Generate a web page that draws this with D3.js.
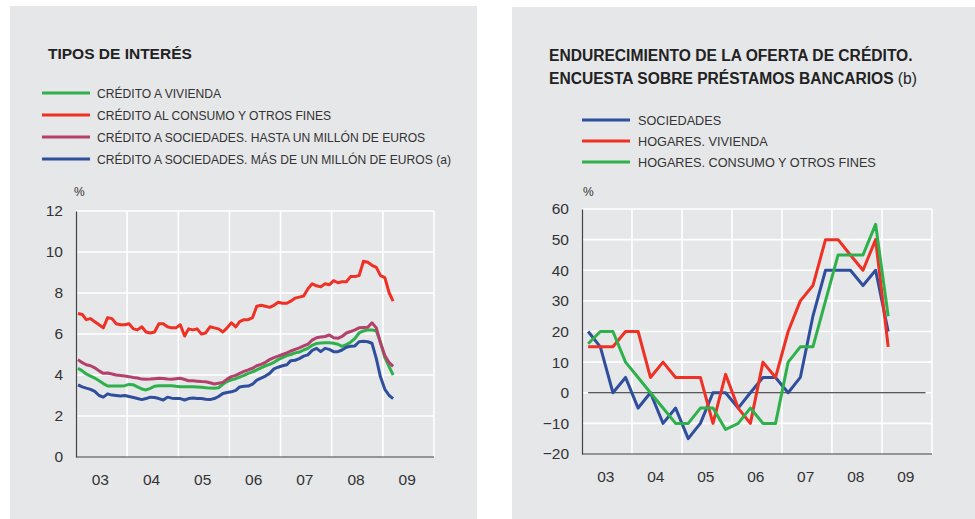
<!DOCTYPE html>
<html><head><meta charset="utf-8">
<script src="https://cdn.jsdelivr.net/npm/d3@7"></script>
<style>
html,body{margin:0;padding:0;background:#fff;}
svg{display:block;font-family:"Liberation Sans",Arial,sans-serif;}
</style></head>
<body>
<svg id="c" width="975" height="519"></svg>
<script>
// ---------- DATA: left panel (monthly, Jan 2003 - Mar 2009) ----------
const leftTitle = "TIPOS DE INTERÉS";
const leftSeriesNames = [
  "CRÉDITO A VIVIENDA",
  "CRÉDITO AL CONSUMO Y OTROS FINES",
  "CRÉDITO A SOCIEDADES. HASTA UN MILLÓN DE EUROS",
  "CRÉDITO A SOCIEDADES. MÁS DE UN MILLÓN DE EUROS (a)"
];
const leftColors = ["#2eb04b", "#ee3124", "#b3416b", "#2f4f9c"];
const vivienda = [4.33,4.2,4.05,3.95,3.85,3.72,3.58,3.46,3.46,3.46,3.46,3.48,
  3.54,3.52,3.42,3.32,3.27,3.35,3.45,3.48,3.48,3.48,3.48,3.45,
  3.43,3.43,3.43,3.43,3.42,3.4,3.38,3.36,3.35,3.38,3.55,3.68,
  3.76,3.82,3.9,3.98,4.08,4.15,4.25,4.35,4.45,4.52,4.62,4.75,
  4.85,4.95,5.0,5.08,5.12,5.22,5.3,5.45,5.54,5.56,5.57,5.57,
  5.55,5.5,5.4,5.48,5.6,5.78,6.05,6.15,6.2,6.2,6.15,5.6,
  4.85,4.4,4.0];
const consumo = [7.0,6.95,6.7,6.75,6.6,6.45,6.3,6.8,6.75,6.5,6.45,6.45,
  6.5,6.25,6.2,6.35,6.1,6.05,6.1,6.5,6.5,6.35,6.3,6.3,
  6.45,5.9,6.25,6.2,6.25,6.0,6.05,6.35,6.3,6.25,6.1,6.3,
  6.55,6.35,6.6,6.7,6.7,6.8,7.35,7.4,7.35,7.3,7.4,7.55,
  7.5,7.5,7.6,7.75,7.8,7.85,8.2,8.45,8.35,8.3,8.45,8.4,
  8.6,8.5,8.55,8.55,8.8,8.8,8.85,9.55,9.5,9.35,9.25,8.85,
  8.75,8.0,7.6];
const sociedadesHasta = [4.75,4.6,4.5,4.45,4.35,4.2,4.08,4.1,4.05,4.0,3.98,3.95,
  3.92,3.88,3.85,3.8,3.79,3.8,3.82,3.84,3.83,3.8,3.79,3.82,
  3.84,3.78,3.72,3.72,3.7,3.68,3.67,3.62,3.56,3.6,3.64,3.8,
  3.92,3.98,4.08,4.18,4.25,4.33,4.45,4.52,4.62,4.75,4.85,4.92,
  5.0,5.08,5.17,5.25,5.32,5.42,5.5,5.7,5.82,5.85,5.88,5.95,
  5.82,5.79,5.88,6.05,6.12,6.2,6.3,6.32,6.33,6.55,6.3,5.55,
  4.95,4.6,4.42];
const sociedadesMas = [3.52,3.42,3.36,3.3,3.2,3.0,2.92,3.08,3.02,3.0,2.98,3.0,
  2.95,2.9,2.85,2.8,2.85,2.92,2.9,2.85,2.78,2.92,2.87,2.85,
  2.85,2.78,2.85,2.88,2.85,2.85,2.82,2.8,2.85,2.95,3.1,3.15,
  3.18,3.25,3.42,3.45,3.46,3.55,3.75,3.85,3.95,4.08,4.3,4.38,
  4.45,4.5,4.7,4.72,4.8,4.92,4.98,5.2,5.3,5.14,5.3,5.25,
  5.14,5.14,5.22,5.35,5.4,5.42,5.62,5.65,5.62,5.55,4.8,3.9,
  3.3,3.0,2.85];
const leftYTicks = [0,2,4,6,8,10,12];

// ---------- DATA: right panel (quarterly, 2003Q1 - 2009Q1) ----------
const rightTitle1 = "ENDURECIMIENTO DE LA OFERTA DE CRÉDITO.";
const rightTitle2 = "ENCUESTA SOBRE PRÉSTAMOS BANCARIOS";
const rightTitleNote = " (b)";
const rightSeriesNames = ["SOCIEDADES", "HOGARES. VIVIENDA", "HOGARES. CONSUMO Y OTROS FINES"];
const rightColors = ["#2f4f9c", "#ee3124", "#2eb04b"];
const sociedades = [20,15,0,5,-5,0,-10,-5,-15,-10,0,0,-5,0,5,5,0,5,25,40,40,40,35,40,20];
const hogaresVivienda = [15,15,15,20,20,5,10,5,5,5,-10,6,-5,-10,10,5,20,30,35,50,50,45,40,50,15];
const hogaresConsumo = [16,20,20,10,5,0,-5,-10,-10,-5,-5,-12,-10,-5,-10,-10,10,15,15,30,45,45,45,55,25];
const rightYTicks = [-20,-10,0,10,20,30,40,50,60];

// ---------- shared ----------
const yearLabels = ["03","04","05","06","07","08","09"];
const years = [2003,2004,2005,2006,2007,2008,2009,2010];

const svg = d3.select("#c");
const bg = "#e6e7e9";
const txt = "#333";

const monthDates = vivienda.map((_, i) => new Date(2003, i, 15));
const quarterDates = sociedades.map((_, i) => new Date(2003, i * 3 + 1, 15));

function panel(o) {
  svg.append("rect").attr("x", o.px).attr("y", o.py).attr("width", o.pw).attr("height", o.ph).attr("fill", bg);
  const x = d3.scaleTime().domain([new Date(2003,0,1), new Date(2010,0,1)]).range([o.x0, o.x1]);
  const y = d3.scaleLinear().domain(o.yDom).range([o.y1, o.y0]);
  const g = svg.append("g");
  g.selectAll(".hg").data(o.yTicks.filter(v => v !== o.yDom[0])).join("line")
    .attr("x1", o.x0).attr("x2", o.x1).attr("y1", d => y(d)).attr("y2", d => y(d))
    .attr("stroke", "#fff").attr("stroke-width", 1.6);
  g.selectAll(".vg").data(years.slice(1)).join("line")
    .attr("x1", d => x(new Date(d,0,1))).attr("x2", d => x(new Date(d,0,1)))
    .attr("y1", o.y0).attr("y2", o.y1).attr("stroke", "#fff").attr("stroke-width", 1.6);
  const ya = d3.axisLeft(y).tickValues(o.yTicks).tickSize(0).tickPadding(o.tickPad);
  const yg = svg.append("g").attr("transform", `translate(${o.x0},0)`).call(ya);
  yg.select(".domain").attr("stroke", "#444").attr("stroke-width", 1.2);
  yg.selectAll("text").attr("font-size", 15.5).attr("fill", txt).attr("font-family", "Liberation Sans, Arial, sans-serif");
  const xa = d3.axisBottom(x).tickValues(years.slice(0,7).map(yr => new Date(yr,5,20)))
    .tickFormat((d,i) => yearLabels[i]).tickSize(0).tickPadding(o.xPad);
  const xg = svg.append("g").attr("transform", `translate(0,${o.y1})`).call(xa);
  xg.select(".domain").attr("stroke", "#444").attr("stroke-width", 1.2).attr("d", `M${o.x0},0H${o.x1}`);
  xg.selectAll("text").attr("font-size", 15.5).attr("fill", txt).attr("font-family", "Liberation Sans, Arial, sans-serif");
  svg.append("text").attr("x", o.pctX).attr("y", o.pctY).attr("font-size", 12).attr("fill", txt).text("%");
  return {x, y};
}

// ---------- left panel ----------
{
  const L = {px:10, py:6, pw:467, ph:513, x0:76, x1:434, y0:211, y1:457, yDom:[0,12], yTicks:leftYTicks,
             tickPad:13, xPad:17, pctX:74, pctY:196};
  const {x, y} = panel(L);
  svg.append("text").attr("x", 48).attr("y", 59).attr("font-size", 15.5).attr("font-weight", "bold")
    .attr("fill", "#222").text(leftTitle);
  const legY = [93, 115, 137, 159];
  leftSeriesNames.forEach((n, i) => {
    svg.append("line").attr("x1", 42).attr("x2", 90).attr("y1", legY[i]).attr("y2", legY[i])
      .attr("stroke", leftColors[i]).attr("stroke-width", 3);
    svg.append("text").attr("x", 97).attr("y", legY[i] + 4.5).attr("font-size", 12.1).attr("fill", txt).text(n);
  });
  const series = [vivienda, consumo, sociedadesHasta, sociedadesMas];
  const line = d3.line().x((d,i) => x(monthDates[i])).y(d => y(d)).curve(d3.curveLinear);
  [1, 0, 2, 3].forEach(k => {
    svg.append("path").datum(series[k]).attr("d", line).attr("fill", "none")
      .attr("stroke", leftColors[k]).attr("stroke-width", 3).attr("stroke-linejoin", "round");
  });
}

// ---------- right panel ----------
{
  const R = {px:512, py:7, pw:463, ph:512, x0:582, x1:932, y0:209, y1:454, yDom:[-20,60], yTicks:rightYTicks,
             tickPad:13, xPad:17, pctX:583, pctY:196};
  const {x, y} = panel(R);
  svg.append("text").attr("x", 549).attr("y", 61).attr("font-size", 15.6).attr("font-weight", "bold")
    .attr("fill", "#222").text(rightTitle1);
  const t2 = svg.append("text").attr("x", 549).attr("y", 84).attr("font-size", 15.6).attr("fill", "#222");
  t2.append("tspan").attr("font-weight", "bold").text(rightTitle2);
  t2.append("tspan").attr("font-weight", "normal").text(rightTitleNote);
  const legY = [120, 141, 162];
  rightSeriesNames.forEach((n, i) => {
    svg.append("line").attr("x1", 582).attr("x2", 630).attr("y1", legY[i]).attr("y2", legY[i])
      .attr("stroke", rightColors[i]).attr("stroke-width", 3);
    svg.append("text").attr("x", 638).attr("y", legY[i] + 4.5).attr("font-size", 12.7).attr("fill", txt).text(n);
  });
  svg.append("line").attr("x1", x(quarterDates[0])).attr("x2", x(new Date(2009,10,15)))
    .attr("y1", y(0)).attr("y2", y(0)).attr("stroke", "#222").attr("stroke-width", 1);
  const series = [sociedades, hogaresVivienda, hogaresConsumo];
  const line = d3.line().x((d,i) => x(quarterDates[i])).y(d => y(d));
  series.forEach((s, k) => {
    svg.append("path").datum(s).attr("d", line).attr("fill", "none")
      .attr("stroke", rightColors[k]).attr("stroke-width", 3).attr("stroke-linejoin", "round");
  });
}
</script>
</body></html>
